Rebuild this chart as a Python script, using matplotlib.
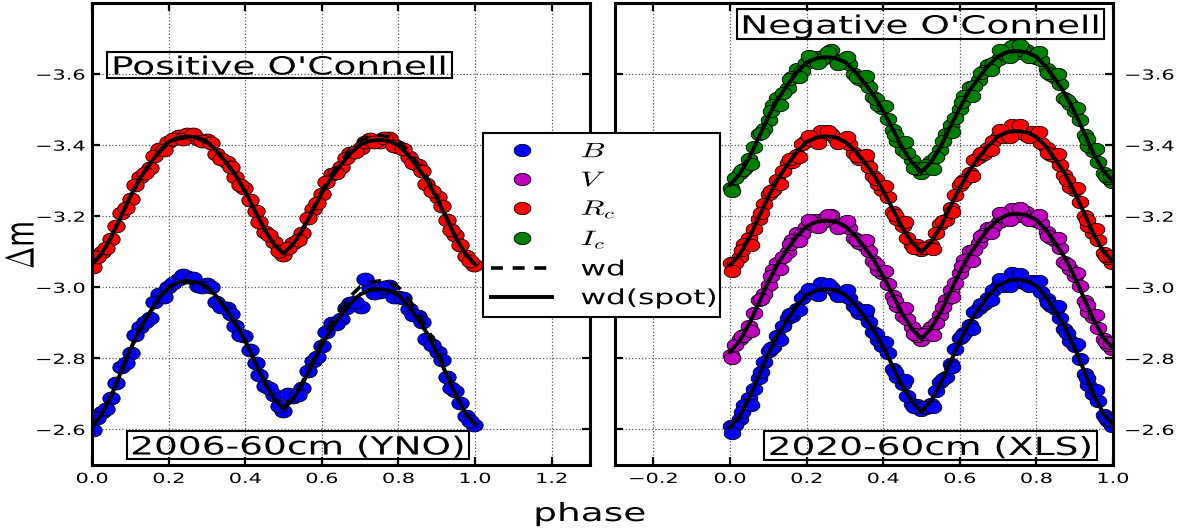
import numpy as np
import matplotlib
matplotlib.use('Agg')
import matplotlib.pyplot as plt
from matplotlib.path import Path
from matplotlib.lines import Line2D
from matplotlib.patches import Rectangle
from matplotlib.patheffects import AbstractPathEffect
from matplotlib.transforms import Affine2D

plt.rcParams['font.family'] = ['DejaVu Sans']
plt.rcParams['mathtext.fontset'] = 'cm'

# ---------------- data ----------------
model_phase = [0.0, 0.025, 0.05, 0.075, 0.1, 0.125, 0.15, 0.175, 0.2, 0.225, 0.25,
               0.275, 0.3, 0.325, 0.35, 0.375, 0.4, 0.425, 0.45, 0.475, 0.5,
               0.525, 0.55, 0.575, 0.6, 0.625, 0.65, 0.675, 0.7, 0.725, 0.75,
               0.775, 0.8, 0.825, 0.85, 0.875, 0.9, 0.925, 0.95, 0.975, 1.0]

obs_phase_a = [0.002, 0.026, 0.049, 0.077, 0.101, 0.124, 0.151, 0.174, 0.199, 0.226, 0.249,
               0.276, 0.301, 0.323, 0.352, 0.374, 0.398, 0.427, 0.451, 0.476, 0.499,
               0.524, 0.548, 0.577, 0.601, 0.626, 0.649, 0.673, 0.702, 0.726, 0.751,
               0.774, 0.799, 0.827, 0.851, 0.873, 0.902, 0.926, 0.948, 0.976, 0.998]
obs_phase_b = [0.013, 0.036, 0.062, 0.088, 0.112, 0.138, 0.161, 0.188, 0.212, 0.238,
               0.263, 0.287, 0.311, 0.338, 0.364, 0.386, 0.413, 0.437, 0.462, 0.488,
               0.511, 0.537, 0.563, 0.588, 0.612, 0.636, 0.663, 0.687, 0.713, 0.737,
               0.762, 0.788, 0.811, 0.838, 0.862, 0.887, 0.913, 0.936, 0.961, 0.987]
obs_phase_c = [0.006, 0.031, 0.055, 0.081, 0.106, 0.131, 0.156, 0.181, 0.206, 0.231, 0.256,
               0.281, 0.306, 0.331, 0.356, 0.381, 0.406, 0.431, 0.456, 0.481, 0.506,
               0.531, 0.556, 0.581, 0.606, 0.631, 0.656, 0.681, 0.706, 0.731, 0.756,
               0.781, 0.806, 0.831, 0.856, 0.881, 0.906, 0.931, 0.956, 0.981, 0.994]

# left panel (2006, YNO): models
left_Rc_spot = [-3.065, -3.094, -3.141, -3.198, -3.256, -3.306, -3.346, -3.382, -3.409, -3.421, -3.425,
                -3.422, -3.410, -3.385, -3.352, -3.316, -3.270, -3.217, -3.164, -3.121, -3.095,
                -3.121, -3.162, -3.213, -3.265, -3.309, -3.345, -3.377, -3.401, -3.412, -3.415,
                -3.412, -3.399, -3.373, -3.338, -3.300, -3.251, -3.195, -3.139, -3.093, -3.065]
left_Rc_wd = [-3.065, -3.094, -3.140, -3.197, -3.254, -3.304, -3.344, -3.379, -3.406, -3.418, -3.422,
              -3.419, -3.407, -3.383, -3.350, -3.314, -3.268, -3.216, -3.164, -3.121, -3.095,
              -3.122, -3.165, -3.218, -3.271, -3.318, -3.355, -3.388, -3.413, -3.425, -3.428,
              -3.424, -3.412, -3.384, -3.348, -3.308, -3.257, -3.199, -3.141, -3.094, -3.065]
left_B_spot = [-2.608, -2.641, -2.694, -2.760, -2.825, -2.883, -2.928, -2.969, -3.000, -3.014, -3.018,
               -3.014, -3.002, -2.975, -2.939, -2.899, -2.849, -2.791, -2.734, -2.687, -2.658,
               -2.685, -2.729, -2.783, -2.837, -2.884, -2.921, -2.955, -2.980, -2.992, -2.995,
               -2.991, -2.978, -2.949, -2.911, -2.870, -2.816, -2.756, -2.695, -2.645, -2.615]
left_B_wd = [-2.608, -2.641, -2.693, -2.759, -2.824, -2.881, -2.926, -2.967, -2.997, -3.011, -3.015,
             -3.011, -2.999, -2.973, -2.937, -2.897, -2.848, -2.790, -2.733, -2.687, -2.660,
             -2.689, -2.735, -2.793, -2.850, -2.900, -2.939, -2.975, -3.002, -3.014, -3.018,
             -3.014, -3.000, -2.970, -2.929, -2.885, -2.829, -2.764, -2.700, -2.647, -2.615]

# left panel observations
left_Rc_a = [-3.057, -3.100, -3.137, -3.208, -3.249, -3.309, -3.337, -3.390, -3.409, -3.426, -3.432,
             -3.416, -3.414, -3.375, -3.354, -3.311, -3.279, -3.214, -3.156, -3.127, -3.091,
             -3.124, -3.153, -3.220, -3.263, -3.319, -3.339, -3.378, -3.393, -3.416, -3.410,
             -3.420, -3.396, -3.366, -3.343, -3.290, -3.253, -3.189, -3.148, -3.089, -3.063]
left_Rc_b = [-3.085, -3.111, -3.172, -3.223, -3.289, -3.323, -3.370, -3.387, -3.418, -3.418,
             -3.430, -3.412, -3.405, -3.361, -3.338, -3.287, -3.246, -3.184, -3.148, -3.102,
             -3.112, -3.134, -3.194, -3.236, -3.296, -3.322, -3.364, -3.382, -3.409, -3.408,
             -3.419, -3.398, -3.390, -3.351, -3.327, -3.272, -3.229, -3.160, -3.119, -3.074]
left_B_a = [-2.598, -2.650, -2.688, -2.775, -2.815, -2.888, -2.915, -2.981, -3.000, -3.022, -3.030,
            -3.005, -3.008, -2.960, -2.942, -2.891, -2.862, -2.786, -2.722, -2.696, -2.652,
            -2.690, -2.716, -2.793, -2.834, -2.899, -2.912, -2.957, -2.945, -2.998, -2.987,
            -3.003, -2.973, -2.939, -2.919, -2.855, -2.819, -2.747, -2.708, -2.639, -2.612]
left_B_b = [-2.633, -2.658, -2.731, -2.787, -2.866, -2.901, -2.958, -2.973, -3.012, -3.036,
            -3.026, -3.002, -3.000, -2.945, -2.925, -2.865, -2.824, -2.753, -2.718, -2.665,
            -2.700, -2.696, -2.765, -2.805, -2.874, -2.896, -2.943, -2.958, -3.022, -2.985,
            -3.000, -2.974, -2.970, -2.922, -2.903, -2.837, -2.795, -2.716, -2.675, -2.623]

# right panel (2020, XLS): models
right_Ic_spot = [-3.288, -3.317, -3.364, -3.421, -3.479, -3.529, -3.569, -3.605, -3.632, -3.644, -3.648,
                 -3.645, -3.634, -3.609, -3.577, -3.541, -3.496, -3.445, -3.393, -3.351, -3.325,
                 -3.352, -3.396, -3.451, -3.505, -3.553, -3.590, -3.624, -3.650, -3.662, -3.665,
                 -3.661, -3.649, -3.621, -3.584, -3.544, -3.493, -3.434, -3.375, -3.327, -3.298]
right_Rc_spot = [-3.062, -3.091, -3.138, -3.196, -3.254, -3.305, -3.345, -3.381, -3.409, -3.421, -3.425,
                 -3.422, -3.410, -3.386, -3.354, -3.318, -3.272, -3.220, -3.168, -3.126, -3.100,
                 -3.127, -3.171, -3.226, -3.280, -3.328, -3.365, -3.399, -3.425, -3.437, -3.440,
                 -3.436, -3.423, -3.396, -3.359, -3.319, -3.267, -3.208, -3.149, -3.101, -3.072]
right_V_spot = [-2.818, -2.848, -2.896, -2.955, -3.014, -3.066, -3.107, -3.144, -3.171, -3.184, -3.188,
                -3.185, -3.173, -3.148, -3.115, -3.078, -3.032, -2.979, -2.926, -2.883, -2.856,
                -2.884, -2.930, -2.986, -3.042, -3.091, -3.130, -3.165, -3.191, -3.204, -3.207,
                -3.203, -3.190, -3.162, -3.124, -3.082, -3.029, -2.968, -2.908, -2.858, -2.828]
right_B_spot = [-2.605, -2.636, -2.687, -2.749, -2.812, -2.866, -2.909, -2.948, -2.978, -2.991, -2.995,
                -2.992, -2.980, -2.954, -2.919, -2.881, -2.833, -2.778, -2.723, -2.678, -2.650,
                -2.680, -2.728, -2.788, -2.847, -2.899, -2.940, -2.977, -3.005, -3.018, -3.022,
                -3.018, -3.004, -2.973, -2.932, -2.887, -2.829, -2.764, -2.698, -2.645, -2.612]

# right panel observations
right_Ic_a = [-3.280, -3.323, -3.360, -3.431, -3.472, -3.532, -3.560, -3.613, -3.632, -3.649, -3.655,
              -3.639, -3.638, -3.599, -3.579, -3.536, -3.505, -3.442, -3.385, -3.357, -3.321,
              -3.355, -3.387, -3.458, -3.503, -3.563, -3.584, -3.625, -3.642, -3.666, -3.660,
              -3.669, -3.646, -3.614, -3.589, -3.534, -3.495, -3.428, -3.384, -3.323, -3.296]
right_Ic_b = [-3.308, -3.334, -3.395, -3.446, -3.512, -3.546, -3.593, -3.610, -3.641, -3.641,
              -3.668, -3.636, -3.629, -3.585, -3.563, -3.513, -3.473, -3.412, -3.377, -3.332,
              -3.343, -3.366, -3.430, -3.475, -3.538, -3.567, -3.610, -3.630, -3.658, -3.680,
              -3.668, -3.647, -3.639, -3.598, -3.572, -3.515, -3.470, -3.398, -3.354, -3.308]
right_Ic_c = [-3.272, -3.331, -3.346, -3.433, -3.496, -3.514, -3.585, -3.592, -3.650, -3.630, -3.663,
              -3.628, -3.647, -3.593, -3.595, -3.529, -3.510, -3.428, -3.409, -3.336, -3.337,
              -3.334, -3.411, -3.438, -3.522, -3.537, -3.604, -3.612, -3.668, -3.647, -3.681,
              -3.647, -3.662, -3.604, -3.599, -3.528, -3.505, -3.416, -3.389, -3.314, -3.314]
right_Rc_a = [-3.067, -3.084, -3.140, -3.192, -3.262, -3.302, -3.351, -3.372, -3.412, -3.416, -3.431,
              -3.418, -3.417, -3.378, -3.358, -3.312, -3.274, -3.213, -3.173, -3.120, -3.104,
              -3.119, -3.177, -3.223, -3.289, -3.323, -3.368, -3.392, -3.427, -3.431, -3.445,
              -3.428, -3.427, -3.391, -3.367, -3.315, -3.273, -3.201, -3.152, -3.096, -3.069]
right_Rc_b = [-3.069, -3.121, -3.163, -3.235, -3.273, -3.328, -3.354, -3.403, -3.415, -3.440,
              -3.431, -3.410, -3.402, -3.360, -3.338, -3.290, -3.255, -3.191, -3.139, -3.119,
              -3.110, -3.152, -3.190, -3.260, -3.302, -3.357, -3.376, -3.413, -3.423, -3.458,
              -3.433, -3.438, -3.407, -3.371, -3.344, -3.283, -3.240, -3.173, -3.134, -3.083]
right_Rc_c = [-3.046, -3.105, -3.120, -3.208, -3.271, -3.290, -3.361, -3.368, -3.427, -3.407, -3.440,
              -3.405, -3.423, -3.370, -3.372, -3.306, -3.286, -3.203, -3.184, -3.111, -3.112,
              -3.109, -3.186, -3.213, -3.297, -3.312, -3.379, -3.387, -3.443, -3.422, -3.456,
              -3.422, -3.436, -3.379, -3.374, -3.303, -3.279, -3.190, -3.163, -3.088, -3.088]
right_V_a = [-2.810, -2.854, -2.892, -2.965, -3.007, -3.069, -3.098, -3.152, -3.171, -3.189, -3.195,
             -3.179, -3.177, -3.138, -3.117, -3.073, -3.041, -2.976, -2.918, -2.889, -2.852,
             -2.887, -2.921, -2.993, -3.040, -3.101, -3.124, -3.166, -3.183, -3.208, -3.202,
             -3.211, -3.187, -3.155, -3.129, -3.072, -3.031, -2.962, -2.917, -2.854, -2.826]
right_V_b = [-2.838, -2.865, -2.928, -2.981, -3.048, -3.084, -3.132, -3.149, -3.181, -3.181,
             -3.203, -3.175, -3.168, -3.124, -3.101, -3.049, -3.008, -2.946, -2.910, -2.864,
             -2.874, -2.899, -2.964, -3.011, -3.076, -3.106, -3.151, -3.171, -3.200, -3.220,
             -3.210, -3.189, -3.180, -3.138, -3.111, -3.052, -3.005, -2.931, -2.886, -2.838]
right_V_c = [-2.802, -2.862, -2.878, -2.967, -3.031, -3.051, -3.123, -3.131, -3.189, -3.170, -3.203,
             -3.168, -3.186, -3.132, -3.133, -3.066, -3.046, -2.962, -2.942, -2.868, -2.868,
             -2.866, -2.945, -2.973, -3.059, -3.075, -3.144, -3.153, -3.209, -3.189, -3.223,
             -3.189, -3.203, -3.145, -3.139, -3.066, -3.041, -2.950, -2.922, -2.845, -2.844]
right_B_a = [-2.610, -2.629, -2.689, -2.745, -2.820, -2.863, -2.915, -2.939, -2.981, -2.986, -3.001,
             -2.988, -2.987, -2.946, -2.923, -2.875, -2.835, -2.771, -2.728, -2.672, -2.654,
             -2.672, -2.734, -2.785, -2.856, -2.894, -2.943, -2.970, -3.007, -3.012, -3.027,
             -3.010, -3.008, -2.968, -2.940, -2.883, -2.835, -2.757, -2.701, -2.640, -2.609]
right_B_b = [-2.613, -2.668, -2.714, -2.791, -2.832, -2.891, -2.920, -2.971, -2.985, -3.012,
             -3.001, -2.980, -2.971, -2.927, -2.902, -2.852, -2.815, -2.748, -2.693, -2.670,
             -2.661, -2.707, -2.749, -2.825, -2.871, -2.930, -2.953, -2.992, -3.004, -3.040,
             -3.015, -3.019, -2.986, -2.946, -2.915, -2.848, -2.799, -2.725, -2.681, -2.625]
right_B_c = [-2.589, -2.650, -2.669, -2.761, -2.829, -2.851, -2.925, -2.935, -2.996, -2.977, -3.010,
             -2.975, -2.993, -2.938, -2.937, -2.869, -2.847, -2.761, -2.739, -2.663, -2.662,
             -2.662, -2.743, -2.775, -2.864, -2.883, -2.954, -2.965, -3.023, -3.003, -3.038,
             -3.004, -3.017, -2.956, -2.947, -2.871, -2.841, -2.746, -2.712, -2.632, -2.628]

left_xticks = [0.0, 0.2, 0.4, 0.6, 0.8, 1.0, 1.2]
right_xticks = [-0.2, 0.0, 0.2, 0.4, 0.6, 0.8, 1.0]
yticks = [-3.6, -3.4, -3.2, -3.0, -2.8, -2.6]

band_names = ['$B$', '$V$', '$R_c$', '$I_c$']
band_colors = ['#0000ff', '#bf00bf', '#ff0000', '#008000']
panel_titles = ["Positive O'Connell", "Negative O'Connell"]
panel_notes = ["2006-60cm (YNO)", "2020-60cm (XLS)"]


# --------------- helpers ---------------
class HStretch(AbstractPathEffect):
    """Widen glyphs horizontally (the reference image is horizontally stretched)."""
    def __init__(self, sx=1.5, anchor='center'):
        super().__init__()
        self.sx = sx
        self.anchor = anchor

    def draw_path(self, renderer, gc, tpath, affine, rgbFace=None):
        bb = tpath.get_extents(affine)
        if self.anchor == 'left':
            xa = bb.x0
        elif self.anchor == 'right':
            xa = bb.x1
        else:
            xa = 0.5 * (bb.x0 + bb.x1)
        tr = affine + Affine2D().translate(-xa, 0).scale(self.sx, 1).translate(xa, 0)
        renderer.draw_path(gc, tpath, tr, rgbFace)


SX = 1.5
t = np.linspace(0, 2 * np.pi, 60)
ell = Path(np.column_stack([1.35 * np.cos(t), np.sin(t)]), closed=True)

W, H = 1181, 531
fig = plt.figure(figsize=(W / 100, H / 100), dpi=100)
ax1 = fig.add_axes([92 / W, 1 - 465 / H, 498 / W, 462 / H])
ax2 = fig.add_axes([615 / W, 1 - 465 / H, 498 / W, 462 / H])


def pts(ax, x, y, color, ms):
    ax.plot(x, y, ls='none', marker=ell, ms=ms, mfc=color, mec='black',
            mew=0.6, zorder=2)


# left panel
pts(ax1, obs_phase_a + obs_phase_b, left_Rc_a + left_Rc_b, band_colors[2], 12.5)
pts(ax1, obs_phase_a + obs_phase_b, left_B_a + left_B_b, band_colors[0], 12.5)
for wd, spot in ((left_Rc_wd, left_Rc_spot), (left_B_wd, left_B_spot)):
    ax1.plot(model_phase, wd, color='black', lw=2.6, dashes=(3.3, 2.7), zorder=3)
    ax1.plot(model_phase, spot, color='black', lw=2.8, zorder=4)

# right panel
for ya, yb, yc, c in ((right_B_a, right_B_b, right_B_c, band_colors[0]),
                      (right_V_a, right_V_b, right_V_c, band_colors[1]),
                      (right_Rc_a, right_Rc_b, right_Rc_c, band_colors[2]),
                      (right_Ic_a, right_Ic_b, right_Ic_c, band_colors[3])):
    pts(ax2, obs_phase_a + obs_phase_b + obs_phase_c, ya + yb + yc, c, 12)
for spot in (right_B_spot, right_V_spot, right_Rc_spot, right_Ic_spot):
    ax2.plot(model_phase, spot, color='black', lw=2.8, zorder=4)

for ax in (ax1, ax2):
    ax.set_ylim(-2.5, -3.8)
    ax.set_yticks(yticks)
    ax.grid(True, ls=':', color='0.35', lw=0.9)
    ax.tick_params(which='both', direction='in', length=6, width=1.6,
                   top=True, right=True, labelsize=10)
    ax.tick_params(axis='x', pad=5)
    for sp in ax.spines.values():
        sp.set_linewidth(2.2)
ax1.set_xlim(0, 1.3)
ax1.set_xticks(left_xticks)
ax2.set_xlim(-0.3, 1.0)
ax2.set_xticks(right_xticks)
ax1.tick_params(axis='y', pad=5)
ax2.tick_params(axis='y', labelleft=False, labelright=True, pad=8.5)

for ax in (ax1, ax2):
    for tk in ax.xaxis.get_major_ticks():
        tk.label1.set_path_effects([HStretch(SX, 'center')])
    for tk in ax.yaxis.get_major_ticks():
        tk.label1.set_path_effects([HStretch(SX, 'right')])
        tk.label2.set_path_effects([HStretch(SX, 'left')])

# boxed annotations (pixel boxes from the reference)
boxes = [((107, 52, 452, 78), panel_titles[0]),
         ((127, 431, 469, 459), panel_notes[0]),
         ((737, 9, 1104, 39), panel_titles[1]),
         ((764, 431, 1097, 460), panel_notes[1])]
for (x0, y0, x1, y1), s in boxes:
    fig.add_artist(Rectangle((x0 / W, 1 - y1 / H), (x1 - x0) / W, (y1 - y0) / H,
                             transform=fig.transFigure, fill=False, ec='black',
                             lw=1.5, zorder=6))
    fig.text((x0 + x1) / 2 / W, 1 - (y0 + y1) / 2 / H, s, ha='center',
             va='center_baseline', fontsize=18, zorder=7,
             path_effects=[HStretch(SX, 'center')])

fig.text(22 / W, 1 - 245 / H, r'$\Delta$m', rotation=90, fontsize=19,
         ha='center', va='center', path_effects=[HStretch(SX, 'center')])
fig.text(590 / W, 1 - 514 / H, 'phase', fontsize=18, ha='center', va='center',
         path_effects=[HStretch(SX, 'center')])

# legend
handles = [Line2D([], [], ls='none', marker=ell, ms=12, mfc=c, mec='black', mew=0.6)
           for c in band_colors]
handles += [Line2D([], [], color='black', lw=2.6, dashes=(3.3, 2.7)),
            Line2D([], [], color='black', lw=2.8)]
labels = band_names + ['wd', 'wd(spot)']
top = 1 - 133 / H
leg = fig.legend(handles, labels, loc='upper left',
                 bbox_to_anchor=(483 / W, top - 0.5, 237 / W, 0.5),
                 mode='expand', borderaxespad=0, fontsize=15, frameon=True,
                 fancybox=False, framealpha=1, edgecolor='black',
                 handlelength=2.9, handletextpad=1.4, labelspacing=0.42,
                 borderpad=0.4, numpoints=1)
leg.get_frame().set_linewidth(1.5)
for txt in leg.get_texts():
    txt.set_path_effects([HStretch(SX, 'left')])

fig.savefig('out.png', dpi=100)
